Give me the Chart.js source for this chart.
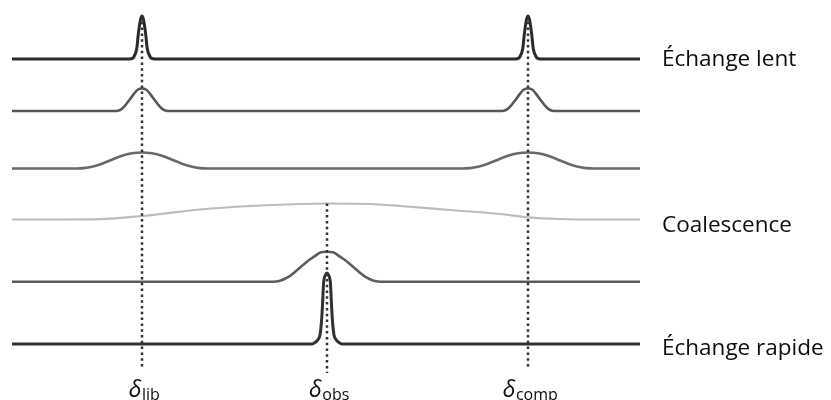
<!DOCTYPE html>
<html>
<head>
<meta charset="utf-8">
<script src="https://cdn.jsdelivr.net/npm/chart.js@4"></script>
<style>
  html, body { margin: 0; padding: 0; background: #ffffff; }
  #wrap { width: 831px; height: 400px; position: relative; }
</style>
</head>
<body>
<div id="wrap"><canvas id="c"></canvas></div>
<script>
// ---- Data (chemical shift axis in arbitrary units, intensity in arbitrary units) ----
const shiftRange = [12, 640];

// Vertical offset of each spectrum's baseline (intensity units)
const spectrumOffsets = [341, 289, 231.5, 180.5, 118.3, 56];

// Spectrum 1 – slow exchange (two sharp lines)
const s1X = [12, 129, 133, 134.5, 135.8, 137, 138, 140.5, 142, 143.5, 146, 147, 148.2, 149.5, 151, 155];
const s1Y = [0, 0, 1, 3.5, 6.5, 12, 22, 39.5, 43, 39.5, 22, 12, 6.5, 3.5, 1, 0];
const s1X2 = [515, 519, 520.5, 521.8, 523, 524, 526.5, 528, 529.5, 532, 533, 534.2, 535.5, 537, 541, 640];
const s1Y2 = [0, 1, 3.5, 6.5, 12, 22, 39.5, 43, 39.5, 22, 12, 6.5, 3.5, 1, 0, 0];

// Spectrum 2 – broadened lines
const s2X = [12, 116, 120, 123, 126, 129, 132, 135, 138, 142, 146, 149, 152, 155, 158, 161, 164, 168, 502, 506, 509, 512, 515, 518, 521, 524, 528, 532, 535, 538, 541, 544, 547, 550, 554, 640];
const s2Y = [0, 0, 1, 3.2, 6.5, 10.5, 14.5, 18.5, 21.5, 22.5, 21.5, 18.5, 14.5, 10.5, 6.5, 3.2, 1, 0, 0, 1, 3.2, 6.5, 10.5, 14.5, 18.5, 21.5, 22.5, 21.5, 18.5, 14.5, 10.5, 6.5, 3.2, 1, 0, 0];

// Spectrum 3 – strongly broadened lines
const s3X = [12, 76, 84, 92, 102, 112, 122, 132, 142, 152, 162, 172, 182, 192, 200, 208, 462, 470, 478, 488, 498, 508, 518, 528, 538, 548, 558, 568, 578, 586, 594, 640];
const s3Y = [0, 0, 0.4, 1.8, 4.8, 8.8, 12.8, 15.2, 16, 15.2, 12.8, 8.8, 4.8, 1.8, 0.4, 0, 0, 0.4, 1.8, 4.8, 8.8, 12.8, 15.2, 16, 15.2, 12.8, 8.8, 4.8, 1.8, 0.4, 0, 0];

// Spectrum 4 – coalescence
const s4X = [12, 60, 100, 142, 200, 250, 300, 327, 370, 400, 450, 500, 528, 560, 600, 640];
const s4Y = [0, 0, 0.3, 3.5, 10, 13.5, 15.5, 16, 15.5, 13.5, 9.5, 5.5, 2.2, 0.5, 0, 0];

// Spectrum 5 – averaged broad line
const s5X = [12, 273, 280, 284, 289, 294, 299, 304, 309, 314, 321, 327, 333, 340, 345, 350, 355, 360, 365, 370, 374, 381, 640];
const s5Y = [0, 0, 1, 2.5, 5, 9, 13.3, 17.5, 21.7, 25, 29.4, 30, 29.4, 25, 21.7, 17.5, 13.3, 9, 5, 2.5, 1, 0, 0];

// Spectrum 6 – fast exchange (one sharp averaged line)
const s6X = [12, 312, 315, 318, 320, 321, 322, 322.8, 323.5, 325.5, 327, 328.5, 330.5, 331.2, 332, 333, 334, 336, 339, 342, 640];
const s6Y = [0, 0, 1.5, 4.5, 9, 17, 30, 45, 60, 69, 71, 69, 60, 45, 30, 17, 9, 4.5, 1.5, 0, 0];

// Reference shifts (dotted markers) and their labels
const markerShifts = [142, 327, 528];
const markerMain = ['δ', 'δ', 'δ'];
const markerSub = ['lib', 'obs', 'comp'];
const markerBottoms = [32, 27, 32];

// Right-hand labels and the spectrum they belong to
const sideLabels = ['Échange lent', 'Coalescence', 'Échange rapide'];
const sideLabelSpectrum = [0, 3, 5];

// ---- Build datasets ----
function pts(xs, ys, off) { return xs.map((x, i) => ({ x: x, y: ys[i] + off })); }

const spectra = [
  { xs: s1X.concat(s1X2), ys: s1Y.concat(s1Y2), color: '#2b2b2b', width: 3 },
  { xs: s2X, ys: s2Y, color: '#575757', width: 2.6 },
  { xs: s3X, ys: s3Y, color: '#696969', width: 2.6 },
  { xs: s4X, ys: s4Y, color: '#bcbcbc', width: 2.2 },
  { xs: s5X, ys: s5Y, color: '#5c5c5c', width: 2.6 },
  { xs: s6X, ys: s6Y, color: '#303030', width: 3 }
];

const datasets = spectra.map((s, i) => ({
  data: pts(s.xs, s.ys, spectrumOffsets[i]),
  borderColor: s.color,
  borderWidth: s.width,
  pointRadius: 0,
  cubicInterpolationMode: 'monotone',
  fill: false,
  order: 2,
  clip: false
}));

const markerTops = [
  spectrumOffsets[0] + Math.max(...s1Y),
  spectrumOffsets[3] + Math.max(...s4Y),
  spectrumOffsets[0] + Math.max(...s1Y2)
];
markerShifts.forEach((x, i) => {
  datasets.push({
    data: [{ x: x, y: markerTops[i] }, { x: x, y: markerBottoms[i] }],
    borderColor: '#333333',
    borderWidth: 2.5,
    borderDash: [2.5, 3.3],
    pointRadius: 0,
    fill: false,
    order: 0,
    clip: false
  });
});

const FONT = '"Open Sans", "Noto Sans", sans-serif';
const labelPlugin = {
  id: 'labels',
  afterDraw(chart) {
    const ctx = chart.ctx, xs = chart.scales.x, ys = chart.scales.y;
    ctx.save();
    ctx.fillStyle = '#0d0d0d';
    ctx.textBaseline = 'alphabetic';
    ctx.textAlign = 'left';
    ctx.font = '22.5px ' + FONT;
    const dys = [7, 12.5, 11];
    sideLabels.forEach((t, i) => {
      const y = ys.getPixelForValue(spectrumOffsets[sideLabelSpectrum[i]]);
      ctx.fillText(t, chart.chartArea.right + 22, y + dys[i]);
    });
    markerShifts.forEach((x, i) => {
      const px = xs.getPixelForValue(x) + 2;
      const mainFont = 'italic 23px ' + FONT;
      const subFont = '16px ' + FONT;
      ctx.font = mainFont;
      const w1 = ctx.measureText(markerMain[i]).width;
      ctx.font = subFont;
      const w2 = ctx.measureText(markerSub[i]).width;
      const left = px - (w1 + w2) / 2;
      ctx.font = mainFont;
      ctx.fillText(markerMain[i], left, 397);
      ctx.font = subFont;
      ctx.fillText(markerSub[i], left + w1 + 0.5, 399.5);
    });
    ctx.restore();
  }
};

new Chart(document.getElementById('c'), {
  type: 'line',
  data: { datasets: datasets },
  options: {
    responsive: true,
    maintainAspectRatio: false,
    animation: false,
    layout: { padding: { left: 12, right: 191, top: 0, bottom: 0 } },
    plugins: { legend: { display: false }, tooltip: { enabled: false } },
    scales: {
      x: { type: 'linear', min: shiftRange[0], max: shiftRange[1], display: false },
      y: { type: 'linear', min: 0, max: 400, display: false }
    }
  },
  plugins: [labelPlugin]
});
</script>
</body>
</html>
